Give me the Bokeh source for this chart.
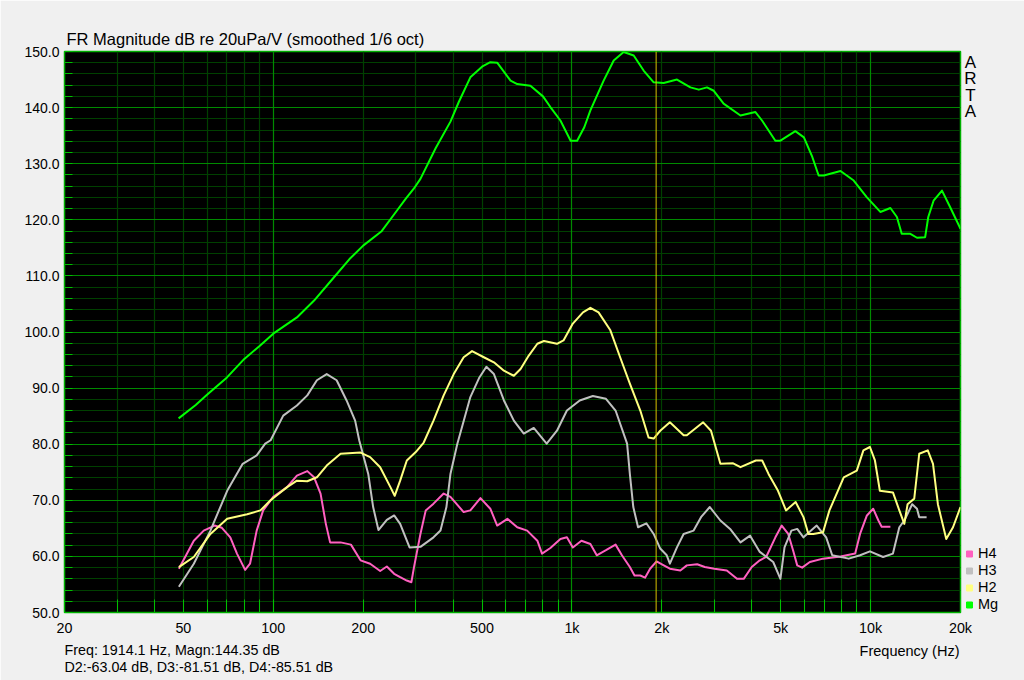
from bokeh.plotting import figure
from bokeh.models import (FixedTicker, CustomJSTickFormatter, Grid, Span, Label,
                          Legend, LegendItem)
from bokeh.embed import file_html
from bokeh.resources import INLINE

# ---------------- data ----------------
mg_freq = [48.2, 55, 60, 70, 80, 90, 100, 120, 137, 160, 180, 200, 230, 260, 277, 295,
           311, 350, 392, 418, 457, 500, 533, 562, 623, 656, 726, 800, 847, 915, 990,
           1041, 1100, 1153, 1277, 1380, 1490, 1610, 1738, 1878, 2028, 2248, 2493, 2660,
           2833, 2985, 3220, 3667, 4115, 4330, 4799, 4990, 5598, 5980, 6380, 6700, 6970,
           7930, 8780, 9720, 10780, 11650, 12250, 12710, 13590, 14300, 15230, 15600,
           16250, 17340, 18490, 20000]
mg_db = [84.6, 87.0, 88.8, 91.9, 95.2, 97.5, 99.7, 102.6, 105.6, 109.8, 113.0, 115.4,
         117.9, 121.7, 123.7, 125.5, 127.3, 132.8, 137.5, 141.0, 145.4, 147.3, 148.1,
         148.0, 144.8, 144.2, 143.9, 142.0, 140.1, 137.7, 134.1, 134.1, 136.5, 139.5,
         144.8, 148.4, 149.9, 149.3, 146.6, 144.5, 144.4, 145.0, 143.6, 143.2, 143.6,
         143.0, 140.7, 138.6, 139.2, 137.7, 134.1, 134.1, 135.8, 134.7, 131.2, 127.9,
         127.9, 128.7, 127.0, 124.0, 121.4, 122.1, 120.5, 117.5, 117.5, 116.8, 116.9,
         120.5, 123.4, 125.2, 122.2, 118.4]

h2_freq = [48.3, 54.2, 61.6, 70.1, 81.8, 90.6, 97.9, 111, 120, 130, 140, 151, 168, 196,
           211, 228, 247, 255, 266, 280, 300, 319, 344, 372, 402, 434, 463, 507, 548, 592,
           639, 673, 717, 766, 806, 891, 937, 1007, 1089, 1153, 1228, 1345, 1450, 1563,
           1694, 1805, 1878, 1975, 2128, 2366, 2425, 2750, 2922, 3141, 3465, 3667, 4128,
           4335, 4553, 4898, 5210, 5610, 5960, 6190, 6430, 6930, 7280, 8130, 8990, 9460,
           9950, 10340, 10740, 11880, 12480, 12970, 13300, 14000, 14550, 15540, 16180,
           16800, 17920, 18880, 20000]
h2_db = [58.1, 59.9, 64.0, 66.7, 67.5, 68.2, 70.0, 72.3, 73.5, 73.4, 74.1, 76.2, 78.3,
         78.5, 77.7, 75.9, 72.3, 70.8, 73.5, 77.1, 78.6, 80.3, 84.2, 88.7, 92.5, 95.5,
         96.6, 95.5, 94.6, 93.1, 92.2, 93.4, 95.8, 97.9, 98.4, 97.9, 98.5, 101.5, 103.5,
         104.3, 103.5, 100.3, 95.5, 90.8, 86.0, 81.2, 81.0, 82.4, 83.9, 81.6, 81.6, 83.9,
         82.4, 76.5, 76.6, 75.9, 77.1, 77.1, 74.7, 71.7, 68.2, 69.7, 67.0, 64.0, 64.0,
         64.3, 68.2, 74.1, 75.3, 78.9, 79.5, 77.1, 71.7, 71.4, 68.2, 65.8, 69.3, 70.3,
         78.3, 78.9, 76.5, 69.3, 63.1, 65.2, 68.8]

h3_freq = [48.3, 54.2, 61.6, 70.1, 79, 88, 94, 98, 108, 120, 130, 140, 151, 163, 176,
           188, 194, 208, 216, 225, 240, 254, 266, 286, 311, 344, 363, 380, 392, 413, 457,
           490, 517, 548, 592, 639, 690, 745, 823, 891, 962, 1062, 1175, 1300, 1400, 1530,
           1563, 1605, 1665, 1775, 1878, 1975, 2077, 2128, 2247, 2366, 2555, 2714, 2895,
           3141, 3385, 3667, 3950, 4256, 4720, 4990, 5150, 5430, 5680, 5960, 6600, 7100,
           7440, 8450, 9220, 9950, 11010, 11880, 12480, 12970, 13780, 14300, 14550, 15400]
h3_db = [54.6, 58.7, 64.6, 71.7, 76.5, 78.0, 80.1, 80.7, 85.1, 86.9, 88.7, 91.4, 92.5,
         91.4, 87.8, 84.2, 80.7, 74.7, 68.8, 64.7, 66.5, 67.3, 65.8, 61.6, 61.7, 63.4,
         64.6, 68.8, 74.7, 80.0, 88.4, 91.9, 93.8, 92.5, 87.8, 84.2, 81.9, 82.9, 80.1,
         82.4, 86.0, 87.8, 88.6, 88.1, 86.0, 80.1, 74.7, 68.8, 65.2, 65.9, 64.0, 61.4,
         60.2, 58.7, 61.6, 64.0, 64.6, 67.1, 68.8, 66.4, 64.9, 62.5, 63.7, 60.8, 59.0,
         56.0, 61.6, 64.6, 64.9, 63.4, 65.5, 63.4, 60.2, 59.6, 60.2, 60.9, 59.9, 60.5,
         65.2, 66.4, 69.3, 68.5, 67.0, 67.0]

h4_freq = [48.3, 54.2, 58.5, 63.6, 67.3, 71.8, 75.6, 80.5, 83.6, 88, 92.5, 100, 111, 120,
           130, 137, 144, 150, 155, 168, 182, 196, 211, 228, 240, 254, 266, 280, 290, 296,
           311, 324, 344, 372, 392, 434, 457, 494, 533, 562, 608, 656, 708, 766, 794, 847,
           915, 962, 1007, 1076, 1153, 1211, 1300, 1400, 1470, 1563, 1620, 1694, 1757,
           1827, 1920, 2030, 2128, 2307, 2425, 2626, 2785, 3000, 3300, 3570, 3760, 4000,
           4256, 4470, 4800, 5040, 5300, 5500, 5680, 5900, 6260, 6930, 7930, 8880, 9220,
           9720, 10200, 10620, 10890, 11650]
h4_db = [57.8, 62.8, 64.6, 65.5, 65.1, 63.4, 60.5, 57.6, 58.7, 64.6, 68.2, 70.6, 72.3,
         74.4, 75.2, 74.1, 71.2, 65.8, 62.5, 62.5, 62.1, 59.3, 58.7, 57.4, 58.2, 56.9,
         56.3, 55.7, 55.4, 58.1, 64.0, 68.2, 69.4, 71.2, 70.6, 67.9, 68.2, 70.4, 68.5,
         65.5, 66.7, 65.2, 64.6, 62.8, 60.5, 61.5, 63.1, 63.4, 61.6, 62.8, 62.2, 60.2,
         61.1, 62.1, 60.2, 58.1, 56.6, 56.6, 56.2, 57.8, 59.1, 58.4, 57.8, 57.5, 58.4,
         58.6, 58.1, 57.8, 57.5, 56.0, 56.0, 58.1, 59.3, 59.9, 63.4, 65.5, 64.0, 61.1,
         58.4, 58.0, 59.0, 59.6, 60.0, 60.5, 64.0, 67.3, 68.5, 66.4, 65.3, 65.3]

series_names = ["H4", "H3", "H2", "Mg"]
series_colors = ["#ff60c0", "#c0c0c0", "#ffff80", "#00ff00"]

cursor_freq = 1914.1
title_text = "FR Magnitude dB re 20uPa/V (smoothed 1/6 oct)"
cursor_text = "Freq: 1914.1 Hz, Magn:144.35 dB\nD2:-63.04 dB, D3:-81.51 dB, D4:-85.51 dB"
x_label_text = "Frequency (Hz)"
brand_text = "A\nR\nT\nA"

x_label_ticks = [20, 50, 100, 200, 500, 1000, 2000, 5000, 10000, 20000]
x_label_texts = ["20", "50", "100", "200", "500", "1k", "2k", "5k", "10k", "20k"]
x_grid_ticks = [20, 30, 40, 50, 60, 70, 80, 90, 200, 300, 400, 500, 600, 700, 800, 900,
                2000, 3000, 4000, 5000, 6000, 7000, 8000, 9000, 20000]
x_decade_ticks = [100, 1000, 10000]
y_minor_ticks = list(range(50, 151, 2))
y_major_ticks = list(range(50, 151, 10))

FONT = "Liberation Sans"
DARK_GRID = "#004000"
BRIGHT_GRID = "#008a00"

# ---------------- figure ----------------
FW, FH = 896, 561
p = figure(frame_width=FW, frame_height=FH, x_axis_type="log", x_range=(20, 20000),
           y_range=(50, 150), output_backend="svg", toolbar_location=None,
           min_border_left=64, min_border_right=58, min_border_top=51, min_border_bottom=60,
           background_fill_color="#000000", border_fill_color="#f0f0f0")
p.outline_line_color = "#00b000"
p.outline_line_width = 1.5

p.title.text = title_text
p.title.text_font = FONT
p.title.text_font_size = "16.5px"
p.title.text_font_style = "normal"
p.title.text_color = "#000000"
p.title.align = "left"
p.title.offset = 2
p.title.standoff = 7

# grids
p.xgrid.visible = False
p.ygrid.visible = False
p.add_layout(Grid(dimension=0, ticker=FixedTicker(ticks=x_grid_ticks),
                  grid_line_color=DARK_GRID, grid_line_width=1.2))
p.add_layout(Grid(dimension=1, ticker=FixedTicker(ticks=y_minor_ticks),
                  grid_line_color=DARK_GRID, grid_line_width=1.2))
p.add_layout(Grid(dimension=0, ticker=FixedTicker(ticks=x_decade_ticks),
                  grid_line_color=BRIGHT_GRID, grid_line_width=1.2))
p.add_layout(Grid(dimension=1, ticker=FixedTicker(ticks=y_major_ticks),
                  grid_line_color=BRIGHT_GRID, grid_line_width=1.2))

# axes
xmap = ", ".join(f"{t}: '{s}'" for t, s in zip(x_label_ticks, x_label_texts))
p.xaxis.ticker = FixedTicker(ticks=sorted(set(x_grid_ticks + x_decade_ticks)), minor_ticks=[])
p.xaxis.formatter = CustomJSTickFormatter(code="const m = {" + xmap + "};"
                                          "const k = Math.round(tick);"
                                          "return (k in m) ? m[k] : '';")
p.xaxis.axis_line_color = None
p.xaxis.major_tick_out = 0
p.xaxis.major_tick_in = 13
p.xaxis.major_tick_line_color = "#00c000"
p.xaxis.minor_tick_line_color = None
p.xaxis.major_label_standoff = 7
p.xaxis.major_label_text_font = FONT
p.xaxis.major_label_text_font_size = "14.3px"
p.xaxis.major_label_text_color = "#000000"

p.yaxis.ticker = FixedTicker(ticks=y_minor_ticks, minor_ticks=[])
p.yaxis.formatter = CustomJSTickFormatter(code="return (Math.abs(tick % 10) < 1e-6) ? tick.toFixed(1) : '';")
p.yaxis.axis_line_color = None
p.yaxis.major_tick_out = 0
p.yaxis.major_tick_in = 8
p.yaxis.major_tick_line_color = "#00c000"
p.yaxis.minor_tick_line_color = None
p.yaxis.major_label_standoff = 5
p.yaxis.major_label_text_font = FONT
p.yaxis.major_label_text_font_size = "14px"
p.yaxis.major_label_text_color = "#000000"

# cursor
p.add_layout(Span(location=cursor_freq, dimension="height", line_color="#d8c000", line_width=1))

# curves
curve_data = {"H4": (h4_freq, h4_db), "H3": (h3_freq, h3_db),
              "H2": (h2_freq, h2_db), "Mg": (mg_freq, mg_db)}
for name, color in zip(series_names, series_colors):
    fx, fy = curve_data[name]
    p.line(fx, fy, line_color=color, line_width=2, line_join="round")

# legend with square markers (right side panel); marker renderers are hidden
items = []
for name, color in zip(series_names, series_colors):
    fx, fy = curve_data[name]
    r = p.scatter(fx, fy, marker="square", size=6, fill_color=color, line_color=color,
                  visible=False)
    items.append(LegendItem(label=name, renderers=[r]))
legend = Legend(items=items, location="bottom_left", orientation="vertical",
                glyph_width=18, glyph_height=15, label_standoff=0, spacing=1,
                padding=0, margin=0, label_height=16, label_width=22,
                label_text_font=FONT, label_text_font_size="14.5px",
                label_text_color="#000000", border_line_color=None,
                background_fill_alpha=0, inactive_fill_alpha=0,
                click_policy="none")
p.add_layout(legend, "right")

# texts below the plot
p.add_layout(Label(x=0, y=29.5, x_units="screen", y_units="screen", text=cursor_text,
                   text_align="left", text_baseline="top", text_line_height=1.09,
                   text_font=FONT, text_font_size="14.3px", text_color="#000000"), "below")
p.add_layout(Label(x=FW - 1, y=37, x_units="screen", y_units="screen", text=x_label_text,
                   text_align="right", text_baseline="middle", text_font=FONT,
                   text_font_size="14.5px", text_color="#000000"), "below")

# brand letters, top right beside the frame (placed from the last below slot)
p.add_layout(Label(x=FW + 10, y=704, x_units="screen", y_units="screen", text=brand_text,
                   text_align="center", text_baseline="top", text_line_height=0.87,
                   text_font=FONT, text_font_size="17px", text_color="#000000"), "below")

open("out.html", "w").write(file_html(p, INLINE))
